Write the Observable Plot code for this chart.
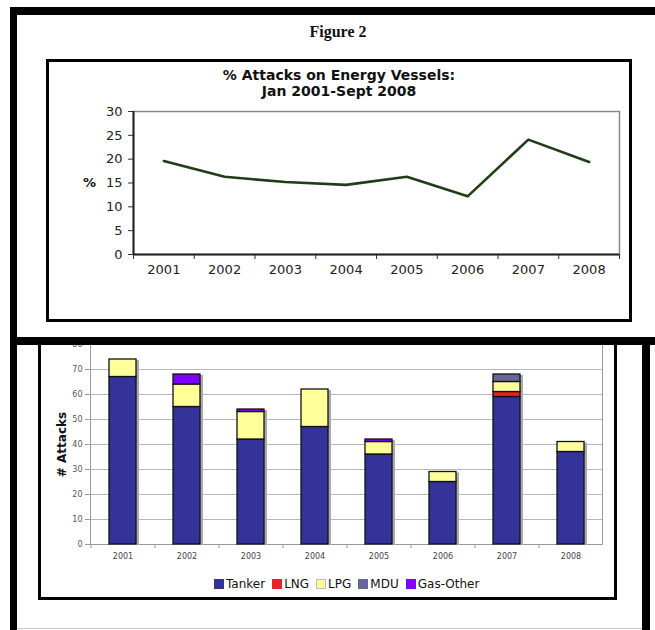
<!DOCTYPE html>
<html><head><meta charset="utf-8">
<script src="https://cdn.jsdelivr.net/npm/d3@7"></script>
<script src="https://cdn.jsdelivr.net/npm/@observablehq/plot@0.6"></script>
<style>
html,body{margin:0;padding:0;background:#fff;}
#page{position:relative;width:655px;height:630px;overflow:hidden;font-family:"DejaVu Sans",Verdana,sans-serif;}
.abs{position:absolute;}
.blk{position:absolute;background:#000;}
.box{position:absolute;border:3px solid #000;box-sizing:border-box;}
#legend{display:flex;align-items:center;font-size:12px;color:#111;white-space:nowrap;}
#legend .sw{display:inline-block;width:10px;height:10px;margin-right:2px;box-sizing:border-box;}
#legend .it{display:flex;align-items:center;margin-right:7px;}
</style></head><body><div id="page">
  <div class="abs" style="left:0;top:23px;width:676px;text-align:center;font-family:'Liberation Serif','Times New Roman',serif;font-weight:bold;font-size:16px;color:#111;">Figure 2</div>
  <div class="box" style="left:46px;top:59px;width:586px;height:263px;"></div>
  <div class="abs" id="title" style="left:46px;top:67px;width:586px;text-align:center;font-weight:bold;font-size:14px;line-height:16px;color:#111;">% Attacks on Energy Vessels:<br>Jan 2001-Sept 2008</div>
  <div class="abs" id="lineChart" style="left:49px;top:62px;"></div>
  <div class="box" style="left:38px;top:339px;width:579px;height:261px;"></div>
  <div class="abs" id="barChart" style="left:41px;top:325px;"></div>
  <div class="abs" id="legend" style="left:214px;top:577px;"></div>
  <div class="blk" style="left:10px;top:7px;width:645px;height:8px;"></div>
  <div class="blk" style="left:10px;top:7px;width:7px;height:623px;"></div>
  <div class="blk" style="left:10px;top:337px;width:645px;height:8px;"></div>
  <div class="blk" style="left:642px;top:337px;width:8px;height:293px;"></div>
  <div class="abs" style="left:17px;top:628px;width:625px;height:1px;background:#c8c8c8;"></div>
</div>
<script>
// ---- data ----
const years = [2001, 2002, 2003, 2004, 2005, 2006, 2007, 2008];
const pctEnergy = [19.6, 16.3, 15.2, 14.6, 16.3, 12.2, 24.1, 19.4];
const lineYTicks = [0, 5, 10, 15, 20, 25, 30];

const types = ["Tanker", "LNG", "LPG", "MDU", "Gas-Other"];
const typeColors = ["#333399", "#e8202a", "#ffff99", "#666699", "#8000ff"];
const tanker   = [67, 55, 42, 47, 36, 25, 59, 37];
const lng      = [0, 0, 0, 0, 0, 0, 2, 0];
const lpg      = [7, 9, 11, 15, 5, 4, 4, 4];
const mdu      = [0, 0, 0, 0, 0, 0, 3, 0];
const gasOther = [0, 4, 1, 0, 1, 0, 0, 0];
const barYTicks = [0, 10, 20, 30, 40, 50, 60, 70, 80];

// ---- line chart ----
const lineData = years.map((y, i) => ({year: y, pct: pctEnergy[i]}));
const bounds = d3.range(years[0] - 0.5, years[years.length - 1] + 1, 1);
const lineChart = Plot.plot({
  width: 580, height: 257,
  marginLeft: 84, marginRight: 10, marginTop: 49, marginBottom: 65,
  style: {fontFamily: "DejaVu Sans, Verdana, sans-serif", fontSize: "13px", color: "#222", background: "transparent"},
  x: {domain: [bounds[0], bounds[bounds.length - 1]]},
  y: {domain: [0, 30]},
  marks: [
    Plot.frame({stroke: "#8a8a8a", strokeWidth: 1.5}),
    Plot.axisY(lineYTicks, {tickSize: 5, tickPadding: 6, label: null, stroke: "#333", tickFormat: d => String(d)}),
    Plot.axisX(years, {tickSize: 0, tickPadding: 10, label: null, tickFormat: d => String(d)}),
    Plot.axisX(bounds, {tickSize: 5, label: null, stroke: "#333", tickFormat: () => ""}),
    Plot.ruleY([0], {stroke: "#222", strokeWidth: 2}),
    Plot.ruleX([bounds[0]], {stroke: "#222", strokeWidth: 2}),
    Plot.line(lineData, {x: "year", y: "pct", stroke: "#1f3d17", strokeWidth: 2.6}),
    Plot.text(["%"], {text: d => d, frameAnchor: "left", textAnchor: "middle", dx: -44, fontWeight: "bold", fontSize: 13, fill: "#111"})
  ]
});
document.getElementById("lineChart").appendChild(lineChart);

// ---- stacked bar chart ----
const seriesVals = [tanker, lng, lpg, mdu, gasOther];
const barData = years.flatMap((y, i) => types.map((t, j) => ({year: String(y), type: t, count: seriesVals[j][i]})))
  .filter(d => d.count > 0);
const totals = years.map((y, i) => ({year: String(y), total: d3.sum(seriesVals, s => s[i])}));

const barChart = Plot.plot({
  width: 573, height: 272,
  marginLeft: 49, marginRight: 12, marginTop: 19, marginBottom: 53,
  style: {fontFamily: "DejaVu Sans, Verdana, sans-serif", fontSize: "8px", color: "#444", background: "transparent"},
  x: {type: "band", domain: years.map(String), paddingInner: 0.58, paddingOuter: 0.29},
  y: {domain: [0, 80]},
  color: {domain: types, range: typeColors},
  marks: [
    Plot.gridY(barYTicks, {stroke: "#b8b8b8", strokeOpacity: 1, strokeWidth: 1}),
    Plot.frame({stroke: "#9a9a9a"}),
    Plot.axisY(barYTicks, {tickSize: 5, tickPadding: 3, label: null, stroke: "#9a9a9a", fill: "#555", tickFormat: d => String(d)}),
    Plot.axisX({tickSize: 0, tickPadding: 9, label: null, fill: "#444"}),
    Plot.axisX({tickSize: 4, label: null, stroke: "#9a9a9a", dx: -32, tickFormat: () => ""}),
    Plot.barY(totals, {x: "year", y: "total", fill: "#aaaaaa", dx: 3, dy: 1}),
    Plot.barY(barData, {x: "year", y: "count", fill: "type", stroke: "#111", strokeWidth: 1.3, order: types}),
    Plot.text(["# Attacks"], {text: d => d, frameAnchor: "left", textAnchor: "middle", dx: -28, rotate: -90, fontWeight: "bold", fontSize: 12, fill: "#111"})
  ]
});
document.getElementById("barChart").appendChild(barChart);

// ---- legend ----
const legend = document.getElementById("legend");
types.forEach((t, i) => {
  const it = document.createElement("span");
  it.className = "it";
  const sw = document.createElement("span");
  sw.className = "sw";
  sw.style.background = typeColors[i];
  if (t === "LPG") sw.style.border = "1px solid #bbb";
  it.appendChild(sw);
  it.appendChild(document.createTextNode(t));
  legend.appendChild(it);
});
</script>
</body></html>
